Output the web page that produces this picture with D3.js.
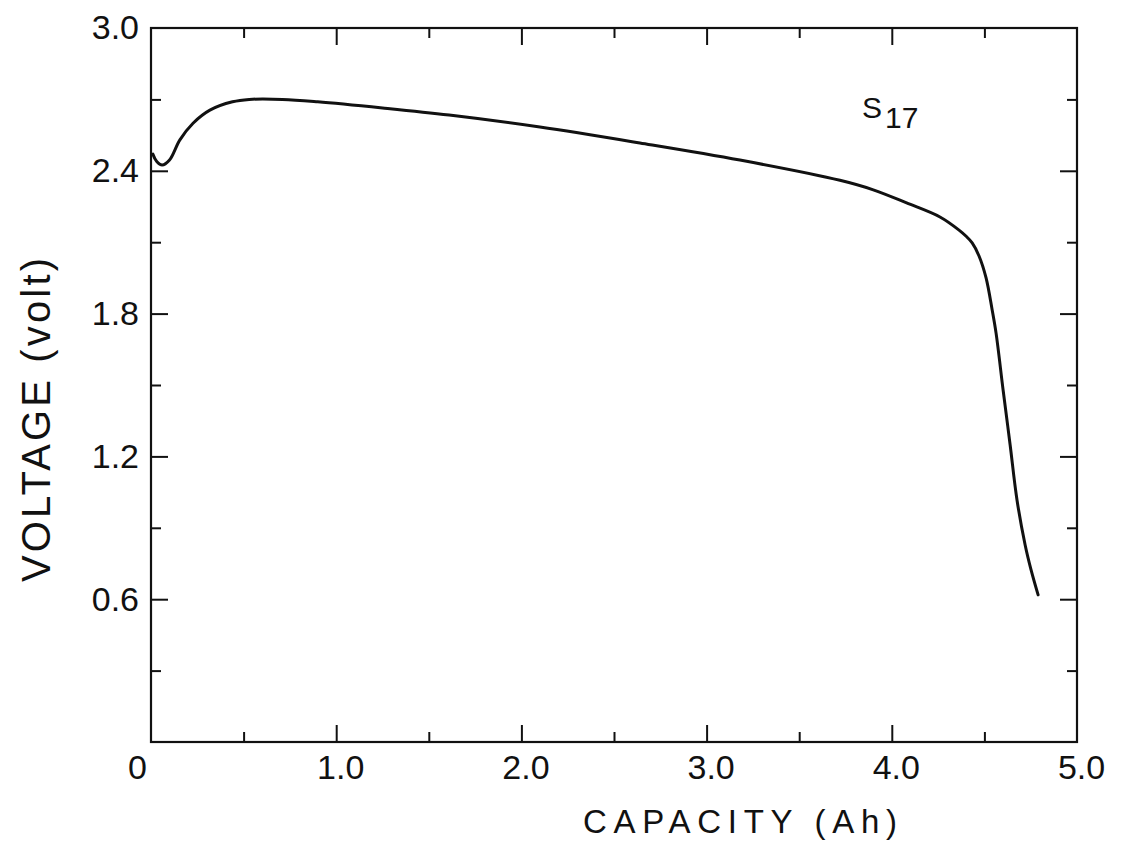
<!DOCTYPE html>
<html>
<head>
<meta charset="utf-8">
<script src="https://cdn.jsdelivr.net/npm/d3@7"></script>
<style>
  html, body { margin: 0; padding: 0; background: #fff; }
  svg { display: block; }
  text { font-family: "Liberation Sans", Arial, sans-serif; fill: #111; }
</style>
</head>
<body>
<svg id="chart" width="1122" height="845"></svg>
<script>
// ---- data ----
const capacity = [0.01, 0.03, 0.06, 0.10, 0.156, 0.227, 0.318, 0.44, 0.53, 0.71, 0.90, 1.25, 1.61, 2.10, 2.64, 3.18, 3.72, 3.90, 4.08, 4.26, 4.363, 4.40, 4.434, 4.471, 4.509, 4.542, 4.563, 4.601, 4.639, 4.676, 4.72, 4.752, 4.79];
const voltage  = [2.47, 2.44, 2.424, 2.445, 2.53, 2.60, 2.655, 2.69, 2.70, 2.70, 2.69, 2.664, 2.634, 2.584, 2.517, 2.445, 2.36, 2.32, 2.265, 2.206, 2.151, 2.126, 2.097, 2.042, 1.950, 1.815, 1.718, 1.479, 1.248, 1.017, 0.828, 0.723, 0.618];
const xMajorTicks = [0, 1, 2, 3, 4, 5];
const xMinorTicks = [0.5, 1.5, 2.5, 3.5, 4.5];
const xTickLabels = ["0", "1.0", "2.0", "3.0", "4.0", "5.0"];
const yMajorTicks = [0.6, 1.2, 1.8, 2.4, 3.0];
const yMinorTicks = [0.3, 0.9, 1.5, 2.1, 2.7];
const yTickLabels = ["0.6", "1.2", "1.8", "2.4", "3.0"];
const xTitle = "CAPACITY (Ah)";
const yTitle = "VOLTAGE (volt)";
const seriesName = "S";
const seriesSub = "17";

const svg = d3.select("#chart");
const L = 151, R = 1077, T = 28, B = 742;
const x = d3.scaleLinear().domain([0, 5]).range([L, R]);
const y = d3.scaleLinear().domain([0, 3]).range([B, T]);

const majorLen = 17, minorLen = 10;

function styleAxis(g) {
  g.select(".domain").remove();
  g.selectAll(".tick line").attr("stroke", "#111").attr("stroke-width", 2);
}

// bottom axis
const gb = svg.append("g").attr("transform", `translate(0,${B})`)
  .call(d3.axisBottom(x).tickValues(xMajorTicks).tickSize(-majorLen).tickPadding(13)
    .tickFormat((d, i) => xTickLabels[i]));
styleAxis(gb);
gb.selectAll(".tick text").attr("font-size", 34).attr("fill", "#111")
  .attr("dx", (d) => d === 0 ? -14 : 4);
gb.selectAll(".tick").filter(d => d === 0 || d === 5).select("line").remove();
svg.append("g").attr("transform", `translate(0,${B})`)
  .call(d3.axisBottom(x).tickValues(xMinorTicks).tickSize(-minorLen).tickFormat(""))
  .call(styleAxis);

// top axis
svg.append("g").attr("transform", `translate(0,${T})`)
  .call(d3.axisTop(x).tickValues(xMajorTicks.filter(d => d > 0 && d < 5)).tickSize(-majorLen).tickFormat(""))
  .call(styleAxis);
svg.append("g").attr("transform", `translate(0,${T})`)
  .call(d3.axisTop(x).tickValues(xMinorTicks).tickSize(-minorLen).tickFormat(""))
  .call(styleAxis);

// left axis
const gl = svg.append("g").attr("transform", `translate(${L},0)`)
  .call(d3.axisLeft(y).tickValues(yMajorTicks).tickSize(-majorLen).tickPadding(12)
    .tickFormat((d, i) => yTickLabels[i]));
styleAxis(gl);
gl.selectAll(".tick text").attr("font-size", 34).attr("fill", "#111");
gl.selectAll(".tick").filter(d => d === 3.0).select("line").remove();
svg.append("g").attr("transform", `translate(${L},0)`)
  .call(d3.axisLeft(y).tickValues(yMinorTicks).tickSize(-minorLen).tickFormat(""))
  .call(styleAxis);

// right axis
svg.append("g").attr("transform", `translate(${R},0)`)
  .call(d3.axisRight(y).tickValues(yMajorTicks.filter(d => d < 3)).tickSize(-majorLen).tickFormat(""))
  .call(styleAxis);
svg.append("g").attr("transform", `translate(${R},0)`)
  .call(d3.axisRight(y).tickValues(yMinorTicks).tickSize(-minorLen).tickFormat(""))
  .call(styleAxis);

// frame
svg.append("rect").attr("x", L).attr("y", T).attr("width", R - L).attr("height", B - T)
  .attr("fill", "none").attr("stroke", "#111").attr("stroke-width", 2.2);

// curve
const pts = capacity.map((c, i) => [c, voltage[i]]);
const line = d3.line().x(d => x(d[0])).y(d => y(d[1])).curve(d3.curveCatmullRom.alpha(0.5));
svg.append("path").datum(pts).attr("d", line)
  .attr("fill", "none").attr("stroke", "#111").attr("stroke-width", 3)
  .attr("stroke-linejoin", "round").attr("stroke-linecap", "round");

// series label
const lab = svg.append("text").attr("x", 862).attr("y", 118).attr("font-size", 30);
lab.append("tspan").text(seriesName);
lab.append("tspan").attr("dx", 3).attr("dy", 10).text(seriesSub);

// axis titles
svg.append("text").attr("x", 740).attr("y", 833).attr("text-anchor", "middle")
  .attr("font-size", 33).attr("textLength", 314).attr("lengthAdjust", "spacing")
  .text(xTitle);
svg.append("text").attr("transform", "translate(50,420) rotate(-90)").attr("text-anchor", "middle")
  .attr("font-size", 40).attr("textLength", 324).attr("lengthAdjust", "spacing")
  .text(yTitle);
</script>
</body>
</html>
